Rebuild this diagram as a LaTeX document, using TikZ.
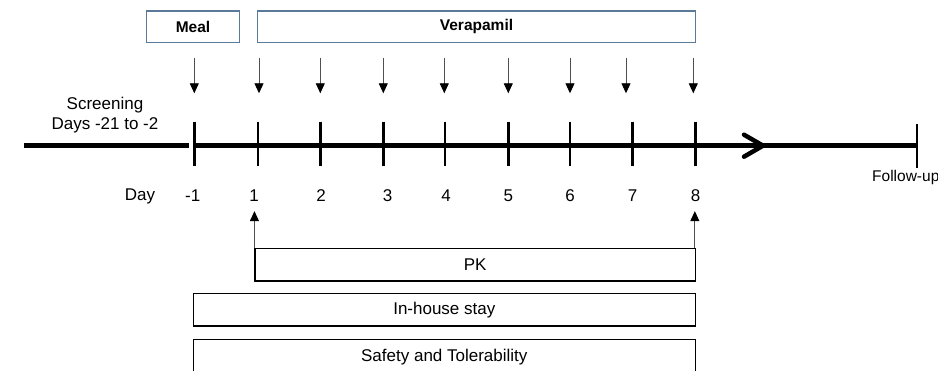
\documentclass[tikz,border=0pt]{standalone}
\usepackage{fontspec}
\setmainfont{Liberation Sans}
\usetikzlibrary{arrows.meta}
\definecolor{boxblue}{HTML}{5B7A99}
\definecolor{shaftgray}{HTML}{505050}
\tikzset{
  lbl/.style={inner sep=0pt, font=\fontsize{17}{20}\selectfont},
  toplbl/.style={draw=boxblue, line width=1.2pt, inner sep=0pt, font=\fontsize{15.5}{18}\bfseries\selectfont},
  barbox/.style={draw=black, line width=1.1pt, inner sep=0pt, font=\fontsize{17}{20}\selectfont},
  dose/.style={draw=shaftgray, line width=0.9pt, -{Triangle[width=9pt,length=10pt,black]}},
  tline/.style={line width=4.5pt},
  tick/.style={line width=2.4pt},
}
\begin{document}
\begin{tikzpicture}[x=1pt,y=-1pt]
\useasboundingbox (0,0) rectangle (938,371);
\fill[white] (0,0) rectangle (938,371);

% treatment boxes
\node[toplbl, minimum width=92.6pt, minimum height=31.3pt] (meal) at (193,26.7) {Meal};
\node[toplbl, minimum width=437.6pt, minimum height=31.3pt] (vera) at (476.5,26.7) {Verapamil};

% dosing arrows
\foreach \n/\x in {a/194.3, b/259, c/320.3, d/383.3, e/444.3, f/508.3, g/570, h/626, i/693.3}{
  \coordinate (ds\n) at (\x,57.7);
  \coordinate (de\n) at (\x,93.3);
  \draw[dose] (ds\n) -- (de\n);
}

% screening period
\coordinate (s0) at (24,145.7);
\coordinate (s1) at (189,145.7);
\draw[tline] (s0) -- (s1);
\node[lbl, align=center] (scr) at (105,115.5) {Screening\\Days -21 to -2};

% study period with arrow
\coordinate (t0) at (194,145.7);
\coordinate (tip) at (763,145.7);
\coordinate (fu) at (916.7,145.7);
\draw[tline] (t0) -- (tip);
\draw[tline, line join=round, line cap=round] ([shift={(-19,-11)}]tip) -- (tip) -- ([shift={(-19,11)}]tip);
\draw[tline] (tip) -- (fu);
\draw[tick] ([yshift=21.7]fu) -- ([yshift=-22.3]fu);
\node[inner sep=0pt, anchor=west, font=\fontsize{15.5}{18}\selectfont] (fulbl) at (872,177) {Follow-up};

% day ticks
\foreach \x in {194.3, 258, 320.3, 383.3, 445, 508.3, 570, 632.3, 695.3}{
  \draw[tick] (\x,121.7) -- (\x,165.7);
}

% day labels
\node[lbl] (day) at (140,196) {Day};
\foreach \n/\x/\t in {m1/192.7/-1, d1/254/1, d2/321/2, d3/387.7/3, d4/446/4, d5/508.3/5, d6/570/6, d7/632.7/7, d8/695.7/8}{
  \node[lbl] (lab\n) at (\x,196) {\t};
}

% assessment bars
\node[barbox, minimum width=440.3pt, minimum height=32.7pt] (pk) at (475.15,264.65) {PK};
\node[barbox, minimum width=502pt, minimum height=32.7pt] (stay) at (444.3,309.65) {In-house stay};
\node[barbox, minimum width=502pt, minimum height=36pt, anchor=north] (safe) at (444.3,338.7) {};
\node[lbl] at (444.3,356.7) {Safety and Tolerability};

% PK sampling window
\coordinate (pkl) at (pk.north west);
\coordinate (pkr) at ([xshift=-1pt]pk.north east);
\draw[dose] (pkl) -- ([yshift=36.6pt]pkl);
\draw[dose] (pkr) -- ([yshift=36.6pt]pkr);
\end{tikzpicture}
\end{document}
